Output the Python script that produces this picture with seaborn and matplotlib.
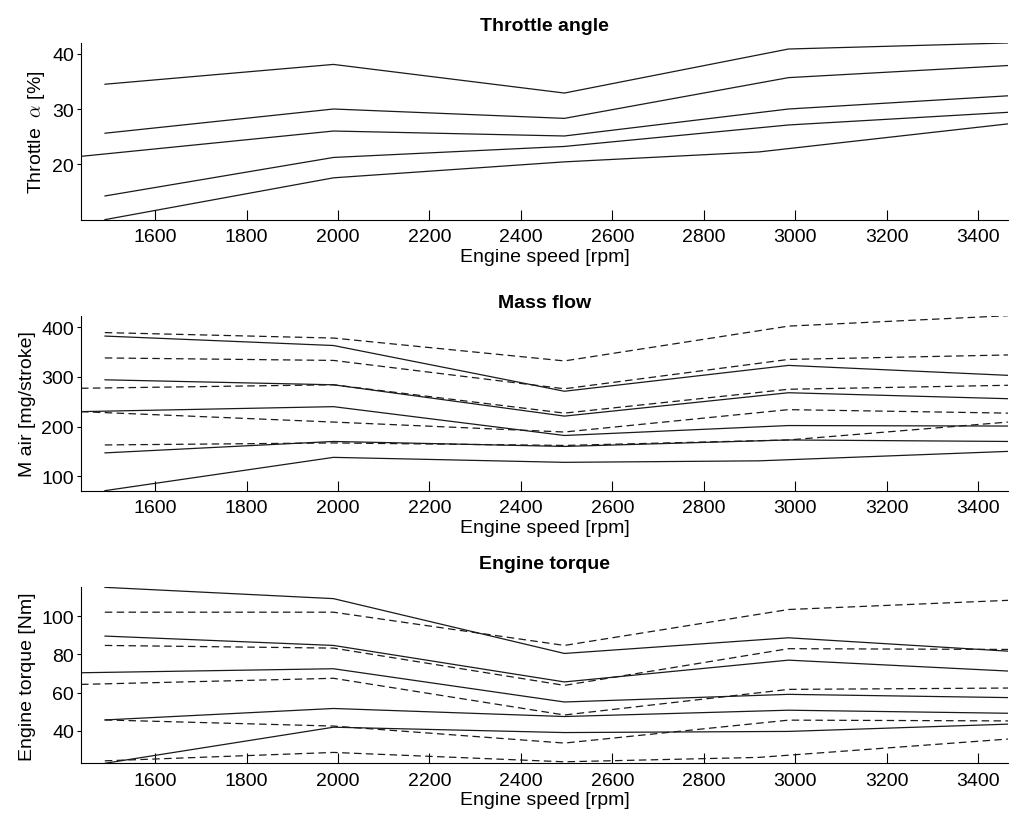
import seaborn as sns
import matplotlib.pyplot as plt

# engine speed operating points [rpm]
rpm_std = [1490, 1990, 2495, 2985, 3465]
rpm_low = [1438, 1990, 2495, 2985, 3465]
rpm_mid = [1490, 1990, 2495, 2920, 3465]

# throttle angle [%]
throttle_rpm = [rpm_std, rpm_std, rpm_low, rpm_std, rpm_mid]
throttle = [
    [34.5, 38.1, 32.9, 40.9, 42.0],
    [25.6, 30.0, 28.3, 35.7, 37.9],
    [21.4, 26.0, 25.1, 30.0, 32.4],
    [14.2, 21.2, 23.2, 27.1, 29.4],
    [9.9, 17.5, 20.4, 22.2, 27.3],
]

# air mass flow [mg/stroke], measured (solid) and model (dashed)
mair_meas_rpm = [rpm_std, rpm_std, rpm_low, rpm_std, rpm_mid]
mair_meas = [
    [382, 363, 271, 323, 303],
    [294, 284, 221, 268, 256],
    [230, 240, 182, 202, 201],
    [147, 170, 160, 173, 170],
    [71, 138, 128, 131, 150],
]
mair_model_rpm = [rpm_std, rpm_std, rpm_low, rpm_low, rpm_std]
mair_model = [
    [389, 378, 332, 402, 423],
    [338, 333, 276, 335, 344],
    [277, 284, 227, 275, 283],
    [230, 209, 189, 234, 227],
    [163, 167, 162, 173, 209],
]

# engine torque [Nm], measured (solid) and model (dashed)
torque_meas_rpm = [rpm_std, rpm_std, rpm_low, rpm_std, rpm_std]
torque_meas = [
    [115.1, 109.2, 80.5, 88.7, 81.7],
    [89.6, 84.7, 65.6, 77.0, 71.3],
    [70.4, 72.5, 55.1, 59.1, 57.4],
    [45.7, 51.7, 47.5, 50.8, 49.2],
    [23.0, 41.9, 39.1, 39.7, 43.5],
]
torque_model_rpm = [rpm_std, rpm_std, rpm_low, rpm_std, rpm_mid]
torque_model = [
    [102.1, 102.1, 84.7, 103.5, 108.3],
    [84.7, 83.3, 63.8, 83.0, 82.6],
    [64.3, 67.5, 48.3, 61.7, 62.4],
    [45.7, 42.5, 33.6, 45.6, 45.2],
    [24.3, 28.7, 23.8, 26.1, 35.7],
]

sns.set_theme(style="ticks")
plt.rcParams['font.family'] = ['Liberation Sans', 'DejaVu Sans']
plt.rcParams['mathtext.fontset'] = 'cm'
# plain black text like the original
for key in ('text.color', 'axes.labelcolor', 'xtick.color', 'ytick.color', 'axes.edgecolor'):
    plt.rcParams[key] = 'black'

fig = plt.figure(figsize=(10.09, 8.2), dpi=100)
ax1 = fig.add_axes([0.0803, 0.7309, 0.9187, 0.2155])
ax2 = fig.add_axes([0.0803, 0.4004, 0.9187, 0.2134])
ax3 = fig.add_axes([0.0803, 0.0679, 0.9187, 0.2146])

LW = 0.9
DASH = (0, (6, 3.5))


def draw(ax, xs, ys, ls='-'):
    for x, y in zip(xs, ys):
        sns.lineplot(x=x, y=y, ax=ax, color='k', lw=LW, linestyle=ls)


draw(ax1, throttle_rpm, throttle)
draw(ax2, mair_meas_rpm, mair_meas)
draw(ax2, mair_model_rpm, mair_model, DASH)
draw(ax3, torque_meas_rpm, torque_meas)
draw(ax3, torque_model_rpm, torque_model, DASH)

ax1.set_ylim(9.9, 42)
ax1.set_yticks([20, 30, 40])
ax2.set_ylim(71, 423)
ax2.set_yticks([100, 200, 300, 400])
ax3.set_ylim(23, 115.1)
ax3.set_yticks([40, 60, 80, 100])

ax1.set_ylabel(r'Throttle  $\alpha$ [%]', fontsize=14)
ax2.set_ylabel('M air [mg/stroke]', fontsize=14)
ax3.set_ylabel('Engine torque [Nm]', fontsize=14)

ax1.set_title('Throttle angle', fontsize=14, fontweight='bold', pad=9)
ax2.set_title('Mass flow', fontsize=14, fontweight='bold', pad=6)
ax3.set_title('Engine torque', fontsize=14, fontweight='bold', pad=14)

for ax in (ax1, ax2, ax3):
    ax.set_xlim(1438, 3465)
    ax.set_xticks(range(1600, 3401, 200))
    ax.set_xlabel('Engine speed [rpm]', fontsize=14, labelpad=2)
    ax.tick_params(axis='x', direction='in', length=7, width=0.8, labelsize=14, pad=6)
    ax.tick_params(axis='y', direction='out', length=3, width=0.8, labelsize=14, pad=2)
    sns.despine(ax=ax)
    for s in ('left', 'bottom'):
        ax.spines[s].set_linewidth(0.8)

fig.savefig('out.png', dpi=100)
